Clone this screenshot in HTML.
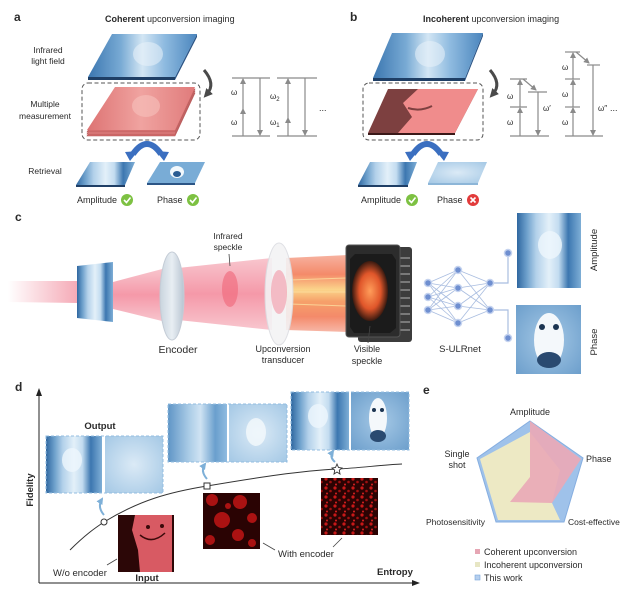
<!DOCTYPE html>
<html><head><meta charset="utf-8"><style>
html,body{margin:0;padding:0;background:#fff;}
svg{display:block;}
text{font-family:"Liberation Sans",Arial,sans-serif;fill:#2a2a2a;}
</style></head><body>
<svg width="640" height="602" viewBox="0 0 640 602" xmlns="http://www.w3.org/2000/svg">
<defs>
<linearGradient id="bl" x1="0" y1="0" x2="1" y2="0">
<stop offset="0" stop-color="#3b76b0"/><stop offset=".3" stop-color="#78aad4"/><stop offset=".5" stop-color="#d3e6f4"/><stop offset=".7" stop-color="#8fbbe0"/><stop offset="1" stop-color="#4a85bd"/></linearGradient>
<linearGradient id="cat" x1="0" y1="0" x2="1" y2="0">
<stop offset="0" stop-color="#2f67a0"/><stop offset=".15" stop-color="#6c9fcb"/><stop offset=".3" stop-color="#b3d1ea"/><stop offset=".5" stop-color="#e3f0f9"/><stop offset=".65" stop-color="#c3dcf0"/><stop offset=".8" stop-color="#3c77b0"/><stop offset="1" stop-color="#7eaed6"/></linearGradient>
<linearGradient id="catb" x1="0" y1="0" x2="1" y2="0">
<stop offset="0" stop-color="#5f95c6"/><stop offset=".35" stop-color="#a9cbe6"/><stop offset=".55" stop-color="#cfe3f3"/><stop offset=".8" stop-color="#6a9fcd"/><stop offset="1" stop-color="#8fbbe0"/></linearGradient>
<radialGradient id="blur" cx=".5" cy=".5" r=".7">
<stop offset="0" stop-color="#dbeaf6"/><stop offset="1" stop-color="#a4c8e5"/></radialGradient>
<radialGradient id="pnd" cx=".5" cy=".5" r=".7">
<stop offset="0" stop-color="#a6c9e6"/><stop offset="1" stop-color="#6d9fcc"/></radialGradient>
<linearGradient id="red" x1="0" y1="0" x2="1" y2="0">
<stop offset="0" stop-color="#dd7373"/><stop offset=".5" stop-color="#f0a3a0"/><stop offset="1" stop-color="#e07b7b"/></linearGradient>
<linearGradient id="beam0" x1="0" y1="0" x2="1" y2="0">
<stop offset="0" stop-color="#ffffff"/><stop offset="1" stop-color="#f39aa9"/></linearGradient>
<linearGradient id="beamv" x1="0" y1="0" x2="0" y2="1">
<stop offset="0" stop-color="#f6b8c2"/><stop offset=".5" stop-color="#f27f93"/><stop offset="1" stop-color="#f6b8c2"/></linearGradient>
<linearGradient id="orng" x1="0" y1="0" x2="0" y2="1">
<stop offset="0" stop-color="#f7b2a0"/><stop offset=".25" stop-color="#f48a6a"/><stop offset=".45" stop-color="#fbd48a"/><stop offset=".6" stop-color="#f6a16a"/><stop offset=".8" stop-color="#f48a6a"/><stop offset="1" stop-color="#f7b8a8"/></linearGradient>
<radialGradient id="glow" cx=".5" cy=".5" r=".5">
<stop offset="0" stop-color="#ff9d5a"/><stop offset=".6" stop-color="#e0562a"/><stop offset="1" stop-color="#3a1a10"/></radialGradient>
<linearGradient id="lens" x1="0" y1="0" x2="1" y2="0">
<stop offset="0" stop-color="#c9d4de"/><stop offset=".5" stop-color="#e8eef3"/><stop offset="1" stop-color="#b7c4d1"/></linearGradient>
<pattern id="sp3" width="9" height="9" patternUnits="userSpaceOnUse">
<rect width="9" height="9" fill="#2a0303"/><circle cx="2" cy="2" r="1.6" fill="#c81818"/><circle cx="6.5" cy="5" r="1.3" fill="#a01010"/><circle cx="3" cy="7.5" r="1" fill="#d82020"/></pattern>
<marker id="ah" markerWidth="6" markerHeight="6" refX="5" refY="3" orient="auto" markerUnits="userSpaceOnUse"><path d="M0,0 L6,3 L0,6 z" fill="#8a8a8a"/></marker>
<marker id="ab" markerWidth="7" markerHeight="7" refX="5" refY="3.5" orient="auto" markerUnits="userSpaceOnUse"><path d="M0,0 L7,3.5 L0,7 z" fill="#7eb0d8"/></marker>
<marker id="ad" markerWidth="9" markerHeight="9" refX="4" refY="4.5" orient="auto" markerUnits="userSpaceOnUse"><path d="M0,0 L9,4.5 L0,9 z" fill="#4a4a4a"/></marker>
</defs>

<!-- ===== Panel a ===== -->
<text x="14" y="21" font-size="12" font-weight="bold">a</text>
<text x="105" y="22" font-size="9"><tspan font-weight="bold">Coherent</tspan> upconversion imaging</text>
<text x="48" y="53" font-size="8.5" text-anchor="middle">Infrared</text>
<text x="48" y="64" font-size="8.5" text-anchor="middle">light field</text>
<text x="45" y="107" font-size="8.5" text-anchor="middle">Multiple</text>
<text x="45" y="119" font-size="8.5" text-anchor="middle">measurement</text>
<text x="45" y="174" font-size="8.5" text-anchor="middle">Retrieval</text>

<polygon points="88,77 175,77 175,80 88,80" fill="#1f3f66"/>
<polygon points="197,34 175,77 175,80 197,37" fill="#2c5586"/>
<polygon points="112,34 197,34 175,77 88,77" fill="url(#bl)"/>
<ellipse cx="148" cy="54" rx="15" ry="12" fill="#eaf3fa" opacity=".55"/>

<rect x="82" y="83" width="118" height="57" rx="6" fill="none" stroke="#555" stroke-width="1" stroke-dasharray="4,2.5"/>
<g stroke="#b55a5a" stroke-width=".6">
<polygon points="115,93 195,93 175,136 87,136" fill="#d06a6a"/>
<polygon points="115,91 195,91 175,134 87,134" fill="#e07e7e"/>
<polygon points="115,89 195,89 175,132 87,132" fill="#d46e6e"/>
</g>
<polygon points="115,87 195,87 175,130 87,130" fill="url(#red)"/>
<ellipse cx="146" cy="106" rx="14" ry="11" fill="#f6c1bd" opacity=".6"/>

<path d="M204,70 Q216,84 207,94" fill="none" stroke="#4a4a4a" stroke-width="3" marker-end="url(#ad)"/>

<!-- energy diagrams a -->
<g stroke="#8a8a8a" stroke-width="1.2" fill="none">
<line x1="232" y1="78" x2="270" y2="78"/><line x1="232" y1="136" x2="270" y2="136"/>
<line x1="277" y1="78" x2="317" y2="78"/><line x1="277" y1="136" x2="317" y2="136"/>
<line x1="243" y1="136" x2="243" y2="109" marker-end="url(#ah)"/><line x1="243" y1="109" x2="243" y2="79" marker-end="url(#ah)"/>
<line x1="260" y1="78" x2="260" y2="135" marker-end="url(#ah)"/>
<line x1="288" y1="136" x2="288" y2="118" marker-end="url(#ah)"/><line x1="288" y1="118" x2="288" y2="79" marker-end="url(#ah)"/>
<line x1="305" y1="78" x2="305" y2="135" marker-end="url(#ah)"/>
</g>
<g font-size="8" fill="#555">
<text x="231" y="95" font-family="Liberation Serif,serif">ω</text>
<text x="231" y="125" font-family="Liberation Serif,serif">ω</text>
<text x="270" y="99" font-family="Liberation Serif,serif">ω<tspan font-size="6" dy="2">2</tspan></text>
<text x="270" y="125" font-family="Liberation Serif,serif">ω<tspan font-size="6" dy="2">1</tspan></text>
</g>
<text x="319" y="111" font-size="9" fill="#444">...</text>

<!-- blue arch a -->
<path d="M133,154 Q147,134 161,154" fill="none" stroke="#3b6fc0" stroke-width="6"/>
<polygon points="125,152 138,151 130,161" fill="#3b6fc0"/>
<polygon points="156,151 169,152 164,161" fill="#3b6fc0"/>

<polygon points="76,185 125,185 125,187 76,187" fill="#1f3f66"/>
<polygon points="90,162 135,162 125,185 76,185" fill="url(#cat)"/>
<polygon points="147,183 195,183 195,185 147,185" fill="#2c5586"/>
<polygon points="160,162 205,162 195,183 147,183" fill="#79acd6"/>
<ellipse cx="177" cy="172" rx="7" ry="6" fill="#f2f8fc"/>
<ellipse cx="177" cy="174" rx="4" ry="3" fill="#2a5c92"/>

<text x="77" y="203" font-size="9">Amplitude</text>
<circle cx="127" cy="200" r="6" fill="#7dc142"/>
<path d="M124,200 L126.5,202.5 L130.5,197.5" fill="none" stroke="#fff" stroke-width="1.6"/>
<text x="157" y="203" font-size="9">Phase</text>
<circle cx="193" cy="200" r="6" fill="#7dc142"/>
<path d="M190,200 L192.5,202.5 L196.5,197.5" fill="none" stroke="#fff" stroke-width="1.6"/>

<!-- ===== Panel b ===== -->
<text x="350" y="21" font-size="12" font-weight="bold">b</text>
<text x="423" y="22" font-size="9"><tspan font-weight="bold">Incoherent</tspan> upconversion imaging</text>
<polygon points="373,78 465,78 465,81 373,81" fill="#1f3f66"/>
<polygon points="483,33 465,78 465,81 483,36" fill="#2c5586"/>
<polygon points="392,33 483,33 465,78 373,78" fill="url(#bl)"/>
<ellipse cx="430" cy="54" rx="15" ry="13" fill="#eaf3fa" opacity=".55"/>

<rect x="363" y="83" width="120" height="57" rx="6" fill="none" stroke="#555" stroke-width="1" stroke-dasharray="4,2.5"/>
<polygon points="368,133 455,133 455,135 368,135" fill="#3a1818"/>
<polygon points="388,89 478,89 455,133 368,133" fill="#7d4040"/>
<polygon points="418,89 478,89 455,133 398,133 412,117 403,103" fill="#f08c8c"/>
<path d="M408,108 Q420,112 432,106" fill="none" stroke="#7d4040" stroke-width="2"/>

<path d="M490,70 Q502,84 493,94" fill="none" stroke="#4a4a4a" stroke-width="3" marker-end="url(#ad)"/>

<g stroke="#8a8a8a" stroke-width="1.2" fill="none">
<line x1="510" y1="79" x2="527" y2="79"/><line x1="510" y1="107" x2="527" y2="107"/>
<line x1="528" y1="92" x2="547" y2="92"/><line x1="510" y1="136" x2="549" y2="136"/>
<line x1="520" y1="136" x2="520" y2="108" marker-end="url(#ah)"/><line x1="520" y1="107" x2="520" y2="80" marker-end="url(#ah)"/>
<line x1="523" y1="79" x2="536" y2="90" marker-end="url(#ah)"/>
<line x1="538" y1="92" x2="538" y2="135" marker-end="url(#ah)"/>
<line x1="565" y1="52" x2="580" y2="52"/><line x1="565" y1="79" x2="580" y2="79"/><line x1="565" y1="107" x2="580" y2="107"/>
<line x1="587" y1="65" x2="600" y2="65"/><line x1="565" y1="136" x2="603" y2="136"/>
<line x1="573" y1="136" x2="573" y2="108" marker-end="url(#ah)"/><line x1="573" y1="107" x2="573" y2="80" marker-end="url(#ah)"/><line x1="573" y1="79" x2="573" y2="53" marker-end="url(#ah)"/>
<line x1="576" y1="52" x2="589" y2="63" marker-end="url(#ah)"/>
<line x1="593" y1="65" x2="593" y2="135" marker-end="url(#ah)"/>
</g>
<g font-size="8" fill="#555" font-family="Liberation Serif,serif">
<text x="507" y="99">ω</text><text x="507" y="125">ω</text>
<text x="543" y="111">ω′</text>
<text x="562" y="70">ω</text><text x="562" y="97">ω</text><text x="562" y="125">ω</text>
<text x="598" y="111">ω″</text>
</g>
<text x="610" y="111" font-size="9" fill="#444">...</text>

<path d="M413,154 Q427,134 441,154" fill="none" stroke="#3b6fc0" stroke-width="6"/>
<polygon points="405,152 418,151 410,161" fill="#3b6fc0"/>
<polygon points="436,151 449,152 444,161" fill="#3b6fc0"/>

<polygon points="358,185 408,185 408,187 358,187" fill="#1f3f66"/>
<polygon points="370,162 417,162 408,185 358,185" fill="url(#cat)"/>
<polygon points="428,183 478,183 478,185 428,185" fill="#8db6d8"/>
<polygon points="438,162 487,162 478,183 428,183" fill="url(#blur)"/>

<text x="361" y="203" font-size="9">Amplitude</text>
<circle cx="412" cy="200" r="6" fill="#7dc142"/>
<path d="M409,200 L411.5,202.5 L415.5,197.5" fill="none" stroke="#fff" stroke-width="1.6"/>
<text x="437" y="203" font-size="9">Phase</text>
<circle cx="473" cy="200" r="6" fill="#e23b3b"/>
<path d="M470.5,197.5 L475.5,202.5 M475.5,197.5 L470.5,202.5" stroke="#fff" stroke-width="1.6"/>

<!-- ===== Panel c ===== -->
<text x="15" y="221" font-size="12" font-weight="bold">c</text>
<polygon points="8,281 78,281 78,303 8,302" fill="url(#beam0)" opacity=".85"/>
<polygon points="113,282 166,268 166,322 113,309" fill="url(#beamv)" opacity=".8"/>
<polygon points="178,268 272,258 272,330 178,320" fill="url(#beamv)" opacity=".8"/>
<polygon points="286,258 348,255 348,332 286,330" fill="url(#orng)"/>
<g stroke="#fde0a0" stroke-width="1" opacity=".8">
<line x1="290" y1="280" x2="346" y2="278"/><line x1="290" y1="292" x2="346" y2="292"/><line x1="290" y1="304" x2="346" y2="306"/>
</g>
<polygon points="77,266 113,262 113,322 77,318" fill="url(#cat)"/>
<ellipse cx="172" cy="296" rx="12" ry="44" fill="url(#lens)" stroke="#c4ccd6" stroke-width="1"/>
<ellipse cx="230" cy="289" rx="8" ry="18" fill="#ef6a7c" opacity=".65"/>
<ellipse cx="279" cy="294" rx="14" ry="51" fill="#f3f3f5" stroke="#dcdde2" stroke-width="1" opacity=".9"/>
<ellipse cx="279" cy="292" rx="8" ry="22" fill="#f28d9c" opacity=".55"/>
<text x="228" y="239" font-size="8.5" text-anchor="middle">Infrared</text>
<text x="228" y="250" font-size="8.5" text-anchor="middle">speckle</text>
<line x1="229" y1="254" x2="230" y2="266" stroke="#444" stroke-width=".8"/>
<text x="178" y="353" font-size="10.5" text-anchor="middle">Encoder</text>
<text x="283" y="352" font-size="9" text-anchor="middle">Upconversion</text>
<text x="283" y="363" font-size="9" text-anchor="middle">transducer</text>

<!-- chip -->
<rect x="358" y="247" width="54" height="95" rx="3" fill="#3c3c3c"/>
<g stroke="#9a9a9a" stroke-width="1.3">
<line x1="400" y1="258" x2="410" y2="258"/><line x1="400" y1="266" x2="410" y2="266"/><line x1="400" y1="274" x2="410" y2="274"/><line x1="400" y1="282" x2="410" y2="282"/><line x1="400" y1="290" x2="410" y2="290"/><line x1="400" y1="298" x2="410" y2="298"/><line x1="400" y1="306" x2="410" y2="306"/><line x1="400" y1="314" x2="410" y2="314"/><line x1="400" y1="322" x2="410" y2="322"/><line x1="400" y1="330" x2="410" y2="330"/>
<line x1="358" y1="246" x2="358" y2="251"/><line x1="363" y1="246" x2="363" y2="251"/><line x1="368" y1="246" x2="368" y2="251"/><line x1="373" y1="246" x2="373" y2="251"/><line x1="378" y1="246" x2="378" y2="251"/><line x1="383" y1="246" x2="383" y2="251"/><line x1="388" y1="246" x2="388" y2="251"/>
</g>
<rect x="346" y="245" width="54" height="92" rx="3" fill="#2c2c2c" stroke="#555" stroke-width="1"/>
<polygon points="355,254 392,254 396,260 396,328 390,333 354,333 350,327 350,259" fill="#1b1b1b"/>
<ellipse cx="370" cy="291" rx="18" ry="30" fill="url(#glow)"/>
<line x1="370" y1="326" x2="368" y2="343" stroke="#444" stroke-width=".8"/>
<text x="367" y="352" font-size="9" text-anchor="middle">Visible</text>
<text x="367" y="364" font-size="9" text-anchor="middle">speckle</text>

<!-- network -->
<g stroke="#a9bde0" stroke-width=".8">
<line x1="428" y1="283" x2="458" y2="270"/><line x1="428" y1="283" x2="458" y2="288"/><line x1="428" y1="283" x2="458" y2="306"/><line x1="428" y1="283" x2="458" y2="323"/>
<line x1="428" y1="297" x2="458" y2="270"/><line x1="428" y1="297" x2="458" y2="288"/><line x1="428" y1="297" x2="458" y2="306"/><line x1="428" y1="297" x2="458" y2="323"/>
<line x1="428" y1="310" x2="458" y2="270"/><line x1="428" y1="310" x2="458" y2="288"/><line x1="428" y1="310" x2="458" y2="306"/><line x1="428" y1="310" x2="458" y2="323"/>
<line x1="458" y1="270" x2="490" y2="283"/><line x1="458" y1="270" x2="490" y2="310"/>
<line x1="458" y1="288" x2="490" y2="283"/><line x1="458" y1="288" x2="490" y2="310"/>
<line x1="458" y1="306" x2="490" y2="283"/><line x1="458" y1="306" x2="490" y2="310"/>
<line x1="458" y1="323" x2="490" y2="283"/><line x1="458" y1="323" x2="490" y2="310"/>
</g>
<path d="M490,283 H508 V253 M490,310 H508 V338" fill="none" stroke="#a9bde0" stroke-width="1.2"/>
<g fill="#6f8fd0" stroke="#c5d3ef" stroke-width="1.5">
<circle cx="428" cy="283" r="3.5"/><circle cx="428" cy="297" r="3.5"/><circle cx="428" cy="310" r="3.5"/>
<circle cx="458" cy="270" r="3.5"/><circle cx="458" cy="288" r="3.5"/><circle cx="458" cy="306" r="3.5"/><circle cx="458" cy="323" r="3.5"/>
<circle cx="490" cy="283" r="3.5"/><circle cx="490" cy="310" r="3.5"/>
<circle cx="508" cy="253" r="3.5"/><circle cx="508" cy="338" r="3.5"/>
</g>
<text x="460" y="352" font-size="9.5" text-anchor="middle">S-ULRnet</text>

<rect x="517" y="213" width="64" height="75" fill="url(#cat)"/>
<ellipse cx="550" cy="245" rx="12" ry="14" fill="#eef6fc" opacity=".8"/>
<rect x="516" y="305" width="65" height="69" fill="url(#pnd)"/>
<ellipse cx="549" cy="340" rx="15" ry="27" fill="#f4f8fb"/>
<circle cx="542" cy="327" r="3" fill="#1c3552"/><circle cx="556" cy="327" r="3" fill="#1c3552"/>
<ellipse cx="549" cy="360" rx="12" ry="8" fill="#2a4a70"/>
<text transform="translate(597,250) rotate(-90)" font-size="9.5" text-anchor="middle">Amplitude</text>
<text transform="translate(597,342) rotate(-90)" font-size="9.5" text-anchor="middle">Phase</text>

<!-- ===== Panel d ===== -->
<text x="15" y="391" font-size="12" font-weight="bold">d</text>
<line x1="39" y1="583" x2="39" y2="394" stroke="#222" stroke-width="1"/>
<polygon points="36,396 39,388 42,396" fill="#222"/>
<line x1="39" y1="583" x2="414" y2="583" stroke="#222" stroke-width="1"/>
<polygon points="412,580 420,583 412,586" fill="#222"/>
<text transform="translate(33,490) rotate(-90)" font-size="9.5" font-weight="bold" text-anchor="middle">Fidelity</text>
<text x="377" y="575" font-size="9.5" font-weight="bold">Entropy</text>

<path d="M70,550 C85,535 95,528 104,522 C140,500 170,492 207,486 C260,477 300,471 337,469 C360,468 380,465 402,464" fill="none" stroke="#333" stroke-width="1"/>

<text x="100" y="429" font-size="9.5" font-weight="bold" text-anchor="middle">Output</text>
<rect x="46" y="436" width="56" height="57" fill="url(#cat)"/>
<ellipse cx="72" cy="460" rx="10" ry="12" fill="#eef6fc" opacity=".8"/>
<rect x="105" y="436" width="58" height="57" fill="url(#blur)"/>
<rect x="46" y="436" width="117" height="57" fill="none" stroke="#93bde0" stroke-dasharray="3,2"/>

<rect x="168" y="404" width="59" height="58" fill="url(#catb)"/>
<rect x="229" y="404" width="58" height="58" fill="url(#blur)"/>
<ellipse cx="256" cy="432" rx="10" ry="14" fill="#f2f8fc" opacity=".85"/>
<rect x="168" y="404" width="119" height="58" fill="none" stroke="#93bde0" stroke-dasharray="3,2"/>

<rect x="291" y="392" width="58" height="58" fill="url(#cat)"/>
<ellipse cx="318" cy="416" rx="10" ry="12" fill="#eef6fc" opacity=".8"/>
<rect x="351" y="392" width="58" height="58" fill="url(#pnd)"/>
<ellipse cx="378" cy="418" rx="9" ry="20" fill="#f4f8fb"/>
<circle cx="374" cy="410" r="2" fill="#1c3552"/><circle cx="382" cy="410" r="2" fill="#1c3552"/>
<ellipse cx="378" cy="436" rx="8" ry="6" fill="#2a4a70"/>
<rect x="291" y="392" width="118" height="58" fill="none" stroke="#93bde0" stroke-dasharray="3,2"/>

<path d="M104,515 Q97,507 102,499" fill="none" stroke="#7eb0d8" stroke-width="2" marker-end="url(#ab)"/>
<path d="M207,479 Q200,471 205,464" fill="none" stroke="#7eb0d8" stroke-width="2" marker-end="url(#ab)"/>
<path d="M335,462 Q329,457 333,451" fill="none" stroke="#7eb0d8" stroke-width="2" marker-end="url(#ab)"/>

<circle cx="104" cy="522" r="3" fill="#fff" stroke="#333" stroke-width="1"/>
<rect x="204" y="483" width="6" height="6" fill="#fff" stroke="#333" stroke-width="1"/>
<polygon points="337,464 338.5,467.5 342,468 339.3,470.2 340,474 337,472 334,474 334.7,470.2 332,468 335.5,467.5" fill="#fff" stroke="#333" stroke-width=".9"/>

<rect x="118" y="515" width="56" height="57" fill="#2c0707"/>
<polygon points="135,515 172,515 172,572 140,572 138,550 132,530" fill="#d85a63"/>
<path d="M140,535 Q152,545 165,533" fill="none" stroke="#3a0a0a" stroke-width="1.5"/>
<circle cx="148" cy="527" r="2" fill="#3a0a0a"/><circle cx="162" cy="526" r="2" fill="#3a0a0a"/>
<text x="147" y="581" font-size="9.5" font-weight="bold" text-anchor="middle">Input</text>
<text x="53" y="576" font-size="9.5">W/o encoder</text>
<line x1="107" y1="565" x2="117" y2="559" stroke="#444" stroke-width=".8"/>

<rect x="203" y="493" width="57" height="56" fill="#2a0303"/>
<g fill="#b81414" opacity=".9">
<circle cx="212" cy="500" r="6"/><circle cx="240" cy="502" r="7"/><circle cx="252" cy="518" r="5"/><circle cx="222" cy="520" r="8"/><circle cx="238" cy="535" r="6"/><circle cx="210" cy="540" r="5"/><circle cx="252" cy="543" r="4"/><circle cx="228" cy="506" r="3"/>
</g>
<rect x="321" y="478" width="57" height="57" fill="url(#sp3)"/>
<text x="278" y="557" font-size="9.5">With encoder</text>
<line x1="263" y1="543" x2="275" y2="550" stroke="#444" stroke-width=".8"/>
<line x1="333" y1="547" x2="342" y2="538" stroke="#444" stroke-width=".8"/>

<!-- ===== Panel e ===== -->
<text x="423" y="394" font-size="12" font-weight="bold">e</text>
<polygon points="530,421 583,458 564,522 496,522 477,458" fill="#9fc2ea" stroke="#86aee0" stroke-width="1"/>
<polygon points="480,459 530,432 560,470 552,503 560,520 498,520" fill="#ede9c4"/>
<polygon points="530,421 581,459 552,503 510,502 530,477" fill="#e9a9b6" opacity=".92"/>
<text x="530" y="415" font-size="9" text-anchor="middle">Amplitude</text>
<text x="586" y="462" font-size="9">Phase</text>
<text x="568" y="525" font-size="8.5">Cost-effective</text>
<text x="426" y="525" font-size="8.5">Photosensitivity</text>
<text x="457" y="457" font-size="9" text-anchor="middle">Single</text>
<text x="457" y="468" font-size="9" text-anchor="middle">shot</text>
<rect x="475" y="549" width="5" height="5" fill="#e6a6b4"/>
<rect x="475" y="562" width="5" height="5" fill="#e7e6c4"/>
<rect x="475" y="575" width="5" height="5" fill="#b5cfee" stroke="#7aa6da" stroke-width=".6"/>
<text x="484" y="555" font-size="9">Coherent upconversion</text>
<text x="484" y="568" font-size="9">Incoherent upconversion</text>
<text x="484" y="581" font-size="9">This work</text>
</svg>
</body></html>
